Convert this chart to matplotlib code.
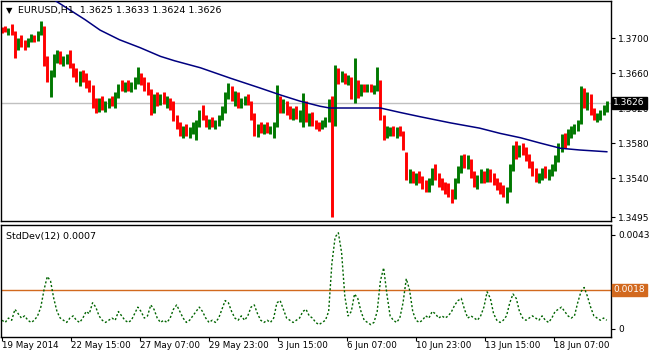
import numpy as np
import matplotlib.pyplot as plt
import matplotlib.transforms as mtransforms

# =====================================================================
# DATA  (EURUSD H1, one entry = 3 hourly bars)
# =====================================================================
BAR_STEP = 3  # hourly bars per entry

highs = [
    1.3713, 1.3714, 1.3712, 1.3716, 1.3708, 1.3700, 1.3703, 1.3698, 1.3700, 1.3705,
    1.3704, 1.3708, 1.3719, 1.3714, 1.3680, 1.3664, 1.3682, 1.3686, 1.3685, 1.3680,
    1.3682, 1.3686, 1.3672, 1.3666, 1.3662, 1.3664, 1.3660, 1.3652, 1.3646, 1.3632,
    1.3632, 1.3634, 1.3628, 1.3632, 1.3634, 1.3638, 1.3648, 1.3652, 1.3650, 1.3652,
    1.3650, 1.3656, 1.3667, 1.3660, 1.3655, 1.3650, 1.3642, 1.3636, 1.3638, 1.3636,
    1.3638, 1.3634, 1.3632, 1.3628, 1.3612, 1.3604, 1.3600, 1.3602, 1.3598, 1.3604,
    1.3606, 1.3618, 1.3624, 1.3612, 1.3608, 1.3610, 1.3606, 1.3612, 1.3622, 1.3638,
    1.3649, 1.3645, 1.3640, 1.3638, 1.3632, 1.3634, 1.3636, 1.3628, 1.3614, 1.3602,
    1.3604, 1.3602, 1.3604, 1.3600, 1.3604, 1.3646, 1.3634, 1.3630, 1.3628, 1.3622,
    1.3620, 1.3622, 1.3618, 1.3637, 1.3628, 1.3614, 1.3616, 1.3606, 1.3604, 1.3606,
    1.3610, 1.3630, 1.3634, 1.3669, 1.3666, 1.3662, 1.3660, 1.3658, 1.3656, 1.3677,
    1.3652, 1.3648, 1.3648, 1.3647, 1.3648, 1.3646, 1.3667, 1.3652, 1.3612, 1.3600,
    1.3598, 1.3600, 1.3598, 1.3600, 1.3594, 1.3570, 1.3550, 1.3548, 1.3546, 1.3548,
    1.3542, 1.3538, 1.3540, 1.3552, 1.3556, 1.3546, 1.3540, 1.3536, 1.3534, 1.3528,
    1.3540, 1.3554, 1.3566, 1.3568, 1.3566, 1.3562, 1.3548, 1.3544, 1.3550, 1.3548,
    1.3552, 1.3550, 1.3546, 1.3540, 1.3536, 1.3532, 1.3530, 1.3556, 1.3578, 1.3582,
    1.3578, 1.3580, 1.3576, 1.3568, 1.3560, 1.3552, 1.3546, 1.3552, 1.3554, 1.3550,
    1.3556, 1.3566, 1.3580, 1.3590, 1.3592, 1.3596, 1.3600, 1.3602, 1.3606, 1.3645,
    1.3643, 1.3638, 1.3636, 1.3620, 1.3614, 1.3618, 1.3624, 1.3628,
]
lows = [
    1.3706, 1.3707, 1.3704, 1.3703, 1.3677, 1.3686, 1.3690, 1.3686, 1.3690, 1.3695,
    1.3696, 1.3697, 1.3703, 1.3668, 1.3650, 1.3633, 1.3655, 1.3672, 1.3670, 1.3668,
    1.3670, 1.3666, 1.3655, 1.3650, 1.3645, 1.3650, 1.3643, 1.3638, 1.3620, 1.3614,
    1.3616, 1.3618, 1.3615, 1.3620, 1.3622, 1.3620, 1.3632, 1.3640, 1.3638, 1.3640,
    1.3638, 1.3642, 1.3648, 1.3646, 1.3640, 1.3635, 1.3612, 1.3614, 1.3622, 1.3624,
    1.3625, 1.3620, 1.3618, 1.3605, 1.3596, 1.3588, 1.3586, 1.3588, 1.3586, 1.3590,
    1.3583, 1.3598, 1.3606, 1.3598, 1.3596, 1.3598, 1.3596, 1.3600, 1.3606, 1.3614,
    1.3630, 1.3628, 1.3622, 1.3620, 1.3620, 1.3624, 1.3624, 1.3606, 1.3588, 1.3587,
    1.3592, 1.3590, 1.3592, 1.3590, 1.3586, 1.3598, 1.3614, 1.3614, 1.3612, 1.3608,
    1.3606, 1.3608, 1.3604, 1.3598, 1.3604, 1.3600, 1.3600, 1.3596, 1.3594, 1.3596,
    1.3598, 1.3604, 1.3495, 1.3600, 1.3648, 1.3650, 1.3648, 1.3646, 1.3630, 1.3626,
    1.3632, 1.3634, 1.3638, 1.3638, 1.3638, 1.3636, 1.3640, 1.3606, 1.3584, 1.3586,
    1.3588, 1.3588, 1.3586, 1.3588, 1.3572, 1.3538, 1.3534, 1.3534, 1.3532, 1.3534,
    1.3528, 1.3524, 1.3524, 1.3532, 1.3538, 1.3530, 1.3526, 1.3522, 1.3518, 1.3512,
    1.3516, 1.3534, 1.3546, 1.3552, 1.3550, 1.3540, 1.3530, 1.3528, 1.3534, 1.3534,
    1.3536, 1.3536, 1.3532, 1.3526, 1.3522, 1.3518, 1.3511, 1.3524, 1.3548, 1.3562,
    1.3564, 1.3566, 1.3560, 1.3552, 1.3542, 1.3536, 1.3534, 1.3538, 1.3540, 1.3538,
    1.3542, 1.3548, 1.3558, 1.3570, 1.3574, 1.3578, 1.3586, 1.3590, 1.3594, 1.3602,
    1.3620, 1.3618, 1.3612, 1.3606, 1.3604, 1.3606, 1.3612, 1.3616,
]
closes = [
    1.3710, 1.3709, 1.3711, 1.3707, 1.3690, 1.3697, 1.3692, 1.3690, 1.3698, 1.3702,
    1.3699, 1.3706, 1.3714, 1.3672, 1.3655, 1.3660, 1.3678, 1.3684, 1.3674, 1.3676,
    1.3680, 1.3670, 1.3660, 1.3654, 1.3658, 1.3652, 1.3648, 1.3644, 1.3625, 1.3620,
    1.3628, 1.3622, 1.3625, 1.3630, 1.3624, 1.3636, 1.3645, 1.3644, 1.3648, 1.3642,
    1.3646, 1.3654, 1.3656, 1.3650, 1.3643, 1.3640, 1.3618, 1.3630, 1.3626, 1.3632,
    1.3628, 1.3630, 1.3622, 1.3608, 1.3600, 1.3592, 1.3596, 1.3590, 1.3594, 1.3600,
    1.3602, 1.3615, 1.3610, 1.3602, 1.3604, 1.3600, 1.3603, 1.3610, 1.3618, 1.3635,
    1.3640, 1.3632, 1.3636, 1.3624, 1.3628, 1.3630, 1.3626, 1.3610, 1.3594, 1.3598,
    1.3596, 1.3600, 1.3594, 1.3598, 1.3600, 1.3630, 1.3618, 1.3626, 1.3616, 1.3612,
    1.3616, 1.3610, 1.3614, 1.3620, 1.3608, 1.3612, 1.3604, 1.3600, 1.3598, 1.3604,
    1.3606, 1.3626, 1.3600, 1.3660, 1.3656, 1.3658, 1.3652, 1.3654, 1.3634, 1.3650,
    1.3640, 1.3644, 1.3642, 1.3645, 1.3640, 1.3644, 1.3650, 1.3610, 1.3590, 1.3594,
    1.3596, 1.3592, 1.3594, 1.3590, 1.3576, 1.3542, 1.3544, 1.3540, 1.3542, 1.3536,
    1.3532, 1.3530, 1.3536, 1.3548, 1.3542, 1.3536, 1.3530, 1.3528, 1.3522, 1.3520,
    1.3536, 1.3550, 1.3560, 1.3556, 1.3562, 1.3544, 1.3534, 1.3540, 1.3546, 1.3538,
    1.3548, 1.3540, 1.3536, 1.3530, 1.3528, 1.3524, 1.3526, 1.3552, 1.3572, 1.3566,
    1.3574, 1.3570, 1.3564, 1.3556, 1.3546, 1.3540, 1.3544, 1.3548, 1.3544, 1.3546,
    1.3552, 1.3562, 1.3576, 1.3584, 1.3580, 1.3590, 1.3596, 1.3598, 1.3604, 1.3640,
    1.3626, 1.3632, 1.3616, 1.3610, 1.3612, 1.3616, 1.3620, 1.3626,
]
first_open = 1.3712

# StdDev(12), same 3-bar grid
std12 = [
    0.0004, 0.0003, 0.0005, 0.0004, 0.0009, 0.0007, 0.0005, 0.0006, 0.0004, 0.0003,
    0.0004, 0.0006, 0.0010, 0.0018, 0.0024, 0.0022, 0.0014, 0.0008, 0.0005, 0.0004,
    0.0003, 0.0005, 0.0006, 0.0004, 0.0003, 0.0005, 0.0008, 0.0007, 0.0012, 0.0010,
    0.0006, 0.0004, 0.0003, 0.0004, 0.0005, 0.0004, 0.0008, 0.0006, 0.0004, 0.0003,
    0.0004, 0.0007, 0.0010, 0.0008, 0.0005, 0.0006, 0.0011, 0.0009, 0.0005, 0.0003,
    0.0004, 0.0003, 0.0005, 0.0009, 0.0011, 0.0008, 0.0005, 0.0003, 0.0004, 0.0006,
    0.0008, 0.0010, 0.0008, 0.0005, 0.0003, 0.0004, 0.0003, 0.0005, 0.0009, 0.0013,
    0.0012, 0.0008, 0.0005, 0.0004, 0.0006, 0.0004, 0.0006, 0.0010, 0.0011, 0.0007,
    0.0004, 0.0003, 0.0004, 0.0003, 0.0005, 0.0012, 0.0013, 0.0009, 0.0005, 0.0004,
    0.0003, 0.0004, 0.0005, 0.0008, 0.0009, 0.0006, 0.0005, 0.0003, 0.0002, 0.0003,
    0.0004, 0.0008, 0.0030, 0.0042, 0.0044, 0.0035, 0.0015, 0.0006, 0.0008, 0.0016,
    0.0014, 0.0008, 0.0004, 0.0003, 0.0002, 0.0003, 0.0008, 0.0022, 0.0028, 0.0016,
    0.0006, 0.0004, 0.0003, 0.0005, 0.0012, 0.0023, 0.0018, 0.0008, 0.0004, 0.0003,
    0.0004, 0.0006, 0.0005, 0.0008, 0.0007, 0.0005, 0.0006, 0.0005, 0.0006, 0.0008,
    0.0011, 0.0013, 0.0014, 0.0009, 0.0005, 0.0006, 0.0005, 0.0004, 0.0006, 0.0010,
    0.0017, 0.0014, 0.0007, 0.0004, 0.0003, 0.0004, 0.0006, 0.0012, 0.0016, 0.0014,
    0.0008, 0.0005, 0.0004, 0.0005, 0.0006, 0.0005, 0.0004, 0.0006, 0.0004, 0.0003,
    0.0005, 0.0008, 0.0009, 0.0010, 0.0008, 0.0006, 0.0005, 0.0006, 0.0012, 0.0017,
    0.0019, 0.0015, 0.0010, 0.0006, 0.0005, 0.0004, 0.0005, 0.0004,
]

# blue moving average (bar index, price)
ma_bars = [49, 63, 77, 91, 109, 128, 147, 160, 184, 212, 239, 258, 276, 295, 304,
           335, 351, 369, 388, 416, 443, 462, 481, 499, 518, 536, 561]
ma_vals = [1.3743, 1.3732, 1.3721, 1.3709, 1.3698, 1.3689, 1.3679, 1.3674, 1.3666,
           1.3654, 1.3643, 1.3635, 1.3628, 1.3622, 1.3620, 1.3620, 1.3620, 1.3615,
           1.3610, 1.3603, 1.3597, 1.3591, 1.3586, 1.3580, 1.3574, 1.3572, 1.3570]

tick_bars = [0, 64, 128, 192, 256, 320, 384, 448, 512]
tick_labels = ['19 May 2014', '22 May 15:00', '27 May 07:00', '29 May 23:00',
               '3 Jun 15:00', '6 Jun 07:00', '10 Jun 23:00', '13 Jun 15:00',
               '18 Jun 07:00']
price_ticks = [1.3700, 1.3660, 1.3620, 1.3580, 1.3540, 1.3495]
std_ticks = [0.0043, 0]

last_price = 1.3626
std_level = 0.0018
header = 'EURUSD,H1  1.3625 1.3633 1.3624 1.3626'
std_header = 'StdDev(12) 0.0007'

# =====================================================================
# PLOT
# =====================================================================
plt.rcParams['font.family'] = ['DejaVu Sans']
FS = 6.5
UP, DOWN = '#007800', '#ff0000'

fig = plt.figure(figsize=(6.5, 3.51), dpi=100)
W, H = 650, 351
ax1 = fig.add_axes([1 / W, 130 / H, 610 / W, 220 / H])
ax2 = fig.add_axes([1 / W, 14 / H, 610 / W, 112 / H])

x = np.arange(len(highs)) * BAR_STEP
opens = [first_open] + closes[:-1]
cols = [UP if c >= o else DOWN for o, c in zip(opens, closes)]

ax1.axhline(last_price, color='#c0c0c0', lw=1.0, zorder=1)
ax1.vlines(x, lows, highs, colors=cols, linewidths=2.1, zorder=2)
ax1.plot(ma_bars, ma_vals, color='#000080', lw=1.1, zorder=3)

xmin, xmax = -0.93, 564.9
ax1.set_xlim(xmin, xmax)
ax1.set_ylim(1.349086, 1.374229)
ax1.set_xticks([])
ax1.yaxis.tick_right()
ax1.set_yticks(price_ticks)
ax1.set_yticklabels(['%.4f' % p for p in price_ticks])

ax2.axhline(std_level, color='#d2691e', lw=1.0, zorder=1)
ax2.plot(x, std12, color='#006400', lw=1.0, ls=(0, (1.5, 1.5)), zorder=2)
ax2.set_xlim(xmin, xmax)
ax2.set_ylim(-0.000366, 0.004757)
ax2.yaxis.tick_right()
ax2.set_yticks(std_ticks)
ax2.set_yticklabels(['0.0043', '0'])
ax2.set_xticks(tick_bars)
ax2.set_xticklabels(tick_labels, ha='left')

for ax in (ax1, ax2):
    for s in ax.spines.values():
        s.set_linewidth(1.0)
        s.set_color('black')
    ax.tick_params(axis='y', direction='out', length=3, width=0.8, pad=2,
                   labelsize=FS, colors='black')
    ax.tick_params(axis='x', direction='out', length=3, width=0.8, pad=0,
                   labelsize=6.3, colors='black')
    ax.set_facecolor('white')

# price / level boxes on the right scale
tr1 = mtransforms.blended_transform_factory(ax1.transAxes, ax1.transData)
ax1.text(1.004, last_price, '%.4f' % last_price, transform=tr1, fontsize=FS,
         color='white', va='center', ha='left', zorder=10, clip_on=False,
         bbox=dict(facecolor='black', edgecolor='black', pad=1.2))
tr2 = mtransforms.blended_transform_factory(ax2.transAxes, ax2.transData)
ax2.text(1.004, std_level, '%.4f' % std_level, transform=tr2, fontsize=FS,
         color='white', va='center', ha='left', zorder=10, clip_on=False,
         bbox=dict(facecolor='#d2691e', edgecolor='#d2691e', pad=1.2))

fig.text(6 / W, 1 - 11 / H, '\u25bc', fontsize=6, va='center', ha='left')
fig.text(18 / W, 1 - 11 / H, header, fontsize=6.8, va='center', ha='left')
fig.text(6 / W, 1 - 236 / H, std_header, fontsize=6.8, va='center', ha='left')

fig.savefig('out.png', dpi=100)
